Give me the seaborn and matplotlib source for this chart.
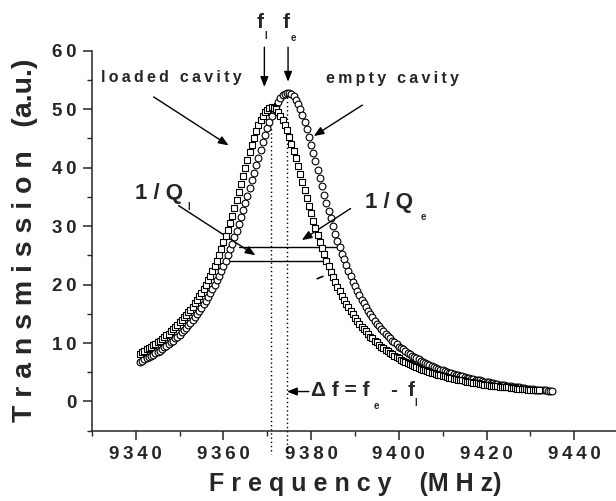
import matplotlib
matplotlib.use("Agg")
import matplotlib.pyplot as plt
import seaborn as sns
import pandas as pd
from matplotlib.ticker import MultipleLocator, FuncFormatter

# frequency sweep points (MHz), 0.5 MHz apart
freq = [9341, 9341.5, 9342, 9342.5, 9343, 9343.5, 9344, 9344.5, 9345, 9345.5,
        9346, 9346.5, 9347, 9347.5, 9348, 9348.5, 9349, 9349.5, 9350, 9350.5,
        9351, 9351.5, 9352, 9352.5, 9353, 9353.5, 9354, 9354.5, 9355, 9355.5,
        9356, 9356.5, 9357, 9357.5, 9358, 9358.5, 9359, 9359.5, 9360, 9360.5,
        9361, 9361.5, 9362, 9362.5, 9363, 9363.5, 9364, 9364.5, 9365, 9365.5,
        9366, 9366.5, 9367, 9367.5, 9368, 9368.5, 9369, 9369.5, 9370, 9370.5,
        9371, 9371.5, 9372, 9372.5, 9373, 9373.5, 9374, 9374.5, 9375, 9375.5,
        9376, 9376.5, 9377, 9377.5, 9378, 9378.5, 9379, 9379.5, 9380, 9380.5,
        9381, 9381.5, 9382, 9382.5, 9383, 9383.5, 9384, 9384.5, 9385, 9385.5,
        9386, 9386.5, 9387, 9387.5, 9388, 9388.5, 9389, 9389.5, 9390, 9390.5,
        9391, 9391.5, 9392, 9392.5, 9393, 9393.5, 9394, 9394.5, 9395, 9395.5,
        9396, 9396.5, 9397, 9397.5, 9398, 9398.5, 9399, 9399.5, 9400, 9400.5,
        9401, 9401.5, 9402, 9402.5, 9403, 9403.5, 9404, 9404.5, 9405, 9405.5,
        9406, 9406.5, 9407, 9407.5, 9408, 9408.5, 9409, 9409.5, 9410, 9410.5,
        9411, 9411.5, 9412, 9412.5, 9413, 9413.5, 9414, 9414.5, 9415, 9415.5,
        9416, 9416.5, 9417, 9417.5, 9418, 9418.5, 9419, 9419.5, 9420, 9420.5,
        9421, 9421.5, 9422, 9422.5, 9423, 9423.5, 9424, 9424.5, 9425, 9425.5,
        9426, 9426.5, 9427, 9427.5, 9428, 9428.5, 9429, 9429.5, 9430, 9430.5,
        9431, 9431.5, 9432, 9432.5, 9433, 9433.5, 9434, 9434.5, 9435]

# empty cavity (circles)
trans_empty = [6.8, 7.0, 7.2, 7.4, 7.6, 7.8, 8.0, 8.3, 8.5, 8.7,
               9.0, 9.3, 9.5, 9.8, 10.1, 10.4, 10.8, 11.1, 11.4, 11.8,
               12.2, 12.6, 13.0, 13.5, 13.9, 14.4, 14.9, 15.5, 16.0, 16.6,
               17.2, 17.8, 18.5, 19.2, 19.9, 20.7, 21.5, 22.3, 23.2, 24.1,
               25.0, 26.0, 27.0, 28.1, 29.2, 30.3, 31.5, 32.7, 33.9, 35.2,
               36.5, 37.8, 39.1, 40.4, 41.7, 43.0, 44.3, 45.5, 46.7, 47.8,
               48.8, 49.8, 50.6, 51.3, 51.9, 52.4, 52.6, 52.8, 52.8, 52.6,
               52.2, 51.6, 50.9, 50.0, 49.0, 47.8, 46.6, 45.3, 43.9, 42.5,
               41.1, 39.6, 38.2, 36.8, 35.3, 33.9, 32.6, 31.3, 30.0, 28.7,
               27.5, 26.4, 25.3, 24.3, 23.3, 22.3, 21.4, 20.5, 19.7, 18.9,
               18.2, 17.4, 16.8, 16.1, 15.5, 14.9, 14.4, 13.8, 13.3, 12.9,
               12.4, 12.0, 11.6, 11.2, 10.8, 10.4, 10.1, 9.8, 9.4, 9.1,
               8.9, 8.6, 8.3, 8.1, 7.8, 7.6, 7.4, 7.2, 7.0, 6.8,
               6.6, 6.4, 6.2, 6.1, 5.9, 5.7, 5.6, 5.4, 5.3, 5.2,
               5.1, 4.9, 4.8, 4.7, 4.6, 4.5, 4.4, 4.3, 4.2, 4.1,
               4.0, 3.9, 3.8, 3.7, 3.6, 3.6, 3.5, 3.4, 3.3, 3.3,
               3.2, 3.1, 3.0, 3.0, 2.9, 2.8, 2.8, 2.7, 2.7, 2.6,
               2.5, 2.5, 2.4, 2.4, 2.3, 2.3, 2.2, 2.2, 2.1, 2.1,
               2.0, 2.0, 2.0, 1.9, 1.9, 1.9, 1.8, 1.8, 1.8]

# loaded cavity (squares), sweep stops at 9432 MHz
trans_loaded = [8.2, 8.4, 8.6, 8.9, 9.1, 9.3, 9.6, 9.8, 10.1, 10.4,
                10.7, 11.0, 11.3, 11.6, 12.0, 12.4, 12.7, 13.1, 13.6, 14.0,
                14.4, 14.8, 15.3, 15.7, 16.2, 16.8, 17.4, 18.0, 18.6, 19.3,
                20.0, 20.7, 21.5, 22.3, 23.2, 24.1, 25.1, 26.1, 27.2, 28.3,
                29.4, 30.6, 31.8, 33.1, 34.5, 35.8, 37.2, 38.6, 40.0, 41.3,
                42.6, 43.9, 45.1, 46.2, 47.3, 48.1, 48.9, 49.5, 49.9, 50.2,
                50.3, 50.2, 50.0, 49.5, 48.9, 48.2, 47.3, 46.4, 45.3, 44.1,
                42.9, 41.6, 40.2, 38.9, 37.5, 36.2, 34.8, 33.5, 32.2, 30.9,
                29.7, 28.5, 27.3, 26.2, 25.2, 24.1, 23.1, 22.2, 21.3, 20.5,
                19.6, 18.9, 18.1, 17.4, 16.7, 16.1, 15.5, 14.9, 14.3, 13.8,
                13.3, 12.8, 12.4, 12.0, 11.5, 11.1, 10.8, 10.4, 10.1, 9.7,
                9.4, 9.1, 8.8, 8.6, 8.3, 8.1, 7.8, 7.6, 7.4, 7.1,
                6.9, 6.7, 6.6, 6.4, 6.2, 6.0, 5.9, 5.7, 5.6, 5.4,
                5.3, 5.2, 5.0, 4.9, 4.8, 4.7, 4.6, 4.5, 4.4, 4.3,
                4.2, 4.1, 4.0, 3.9, 3.8, 3.7, 3.6, 3.6, 3.5, 3.4,
                3.3, 3.3, 3.2, 3.1, 3.1, 3.0, 3.0, 2.9, 2.9, 2.8,
                2.7, 2.7, 2.6, 2.6, 2.5, 2.5, 2.5, 2.4, 2.4, 2.3,
                2.3, 2.3, 2.2, 2.2, 2.1, 2.1, 2.1, 2.0, 2.0, 2.0,
                1.9, 1.9, 1.9]

f_loaded = 9370.9
f_empty = 9374.6

THIN = "\u2009"


def spaced(s):
    # spread letters a little, like the original figure lettering
    return THIN.join(s)


sns.set_style("ticks")
plt.rcParams['font.family'] = ['Liberation Sans', 'DejaVu Sans']
plt.rcParams['font.weight'] = 'bold'

fig = plt.figure(figsize=(6.16, 5.01), dpi=100)
ax = fig.add_axes([0.149, 0.1403, 0.8544, 0.7585])

df_empty = pd.DataFrame({"f": freq, "t": trans_empty})
df_loaded = pd.DataFrame({"f": freq[:len(trans_loaded)], "t": trans_loaded})

sns.scatterplot(data=df_empty, x="f", y="t", marker="o", s=24, facecolor="white",
                edgecolor="black", linewidth=0.8, ax=ax, zorder=3)
sns.scatterplot(data=df_loaded, x="f", y="t", marker="s", s=21, facecolor="white",
                edgecolor="black", linewidth=0.8, ax=ax, zorder=4)

ax.set_xlim(9330, 9450)
ax.set_ylim(-5, 60)
ax.xaxis.set_major_locator(MultipleLocator(20))
ax.xaxis.set_minor_locator(MultipleLocator(10))
ax.yaxis.set_major_locator(MultipleLocator(10))
ax.yaxis.set_minor_locator(MultipleLocator(5))
ax.xaxis.set_major_formatter(FuncFormatter(lambda v, p: spaced(f"{v:.0f}")))
ax.yaxis.set_major_formatter(FuncFormatter(lambda v, p: spaced(f"{v:.0f}")))
sns.despine(ax=ax)
for s in ["left", "bottom"]:
    ax.spines[s].set_linewidth(1.1)
ax.tick_params(which="major", direction="out", length=6.3, width=1.1, labelsize=13.5, pad=4.8)
ax.tick_params(which="minor", direction="out", length=3.5, width=1.0)
for lab in ax.get_xticklabels() + ax.get_yticklabels():
    lab.set_fontweight("bold")

ax.set_xlabel("F r e q u e n c y    (M H z)", fontsize=18, fontweight="bold")
ax.set_ylabel("T r a n s m i s s i o n   (a.u.)", fontsize=20.5, fontweight="bold")
ax.xaxis.set_label_coords(0.5, -0.14)
ax.xaxis.label.set_va("center")
ax.yaxis.set_label_coords(-0.127, 0.5)
ax.yaxis.label.set_va("center")

# resonance markers
ax.plot([f_loaded, f_loaded], [49.5, -9], ls=(0, (1, 2)), lw=1, color="black", clip_on=False)
ax.plot([f_empty, f_empty], [52.8, -9], ls=(0, (1, 2)), lw=1, color="black", clip_on=False)

arrow = dict(arrowstyle="-|>,head_length=0.5,head_width=0.2", color="black", lw=1,
             mutation_scale=12, shrinkA=0, shrinkB=0)

ax.annotate("", xy=(9369.35, 53.8), xytext=(9369.35, 60.6), arrowprops=arrow, annotation_clip=False)
ax.annotate("", xy=(9374.75, 54.7), xytext=(9374.75, 60.6), arrowprops=arrow, annotation_clip=False)
ax.text(9368.3, 64.8, "f", fontsize=15, fontweight="bold", ha="center", va="center")
ax.text(9369.7, 62.5, "l", fontsize=7, fontweight="bold", ha="center", va="center")
ax.text(9374.2, 64.8, "f", fontsize=15, fontweight="bold", ha="center", va="center")
ax.text(9375.9, 62.2, "e", fontsize=7, fontweight="bold", ha="center", va="center")

ax.text(9332.2, 55.4, spaced("loaded cavity"), fontsize=11.5, fontweight="bold", ha="left", va="center")
ax.annotate("", xy=(9361.2, 43.8), xytext=(9344.1, 52.1), arrowprops=arrow)
ax.text(9383.4, 55.2, spaced("empty cavity"), fontsize=11.5, fontweight="bold", ha="left", va="center")
ax.annotate("", xy=(9380.6, 45.4), xytext=(9391.7, 50.7), arrowprops=arrow)

ax.text(9339.9, 35.6, "1 / Q", fontsize=16, fontweight="bold", ha="left", va="center")
ax.text(9352.0, 33.2, "l", fontsize=7, fontweight="bold", ha="center", va="center")
ax.annotate("", xy=(9367.3, 25.0), xytext=(9349.8, 33.5), arrowprops=arrow)
ax.text(9392.4, 34.1, "1 / Q", fontsize=16, fontweight="bold", ha="left", va="center")
ax.text(9405.5, 31.5, "e", fontsize=7, fontweight="bold", ha="center", va="center")
ax.annotate("", xy=(9377.9, 27.6), xytext=(9389.0, 33.0), arrowprops=arrow)

# linewidth bars
ax.plot([9363.5, 9385.9], [26.35, 26.35], color="black", lw=1)
ax.plot([9361.6, 9382.9], [24.0, 24.0], color="black", lw=1)
ax.plot([9381.4, 9382.7], [21.0, 21.4], color="black", lw=1.2)

# delta f
ax.annotate("", xy=(9374.5, 1.7), xytext=(9379.5, 1.7), arrowprops=arrow)
ax.text(9379.9, 1.8, "Δ f = f", fontsize=15, fontweight="bold", ha="left", va="center")
ax.text(9395.0, -0.7, "e", fontsize=7, fontweight="bold", ha="center", va="center")
ax.text(9398.9, 1.8, "-", fontsize=15, fontweight="bold", ha="center", va="center")
ax.text(9402.7, 1.8, "f", fontsize=15, fontweight="bold", ha="center", va="center")
ax.text(9403.9, -0.3, "l", fontsize=7, fontweight="bold", ha="center", va="center")

fig.savefig("out.png", dpi=100)
